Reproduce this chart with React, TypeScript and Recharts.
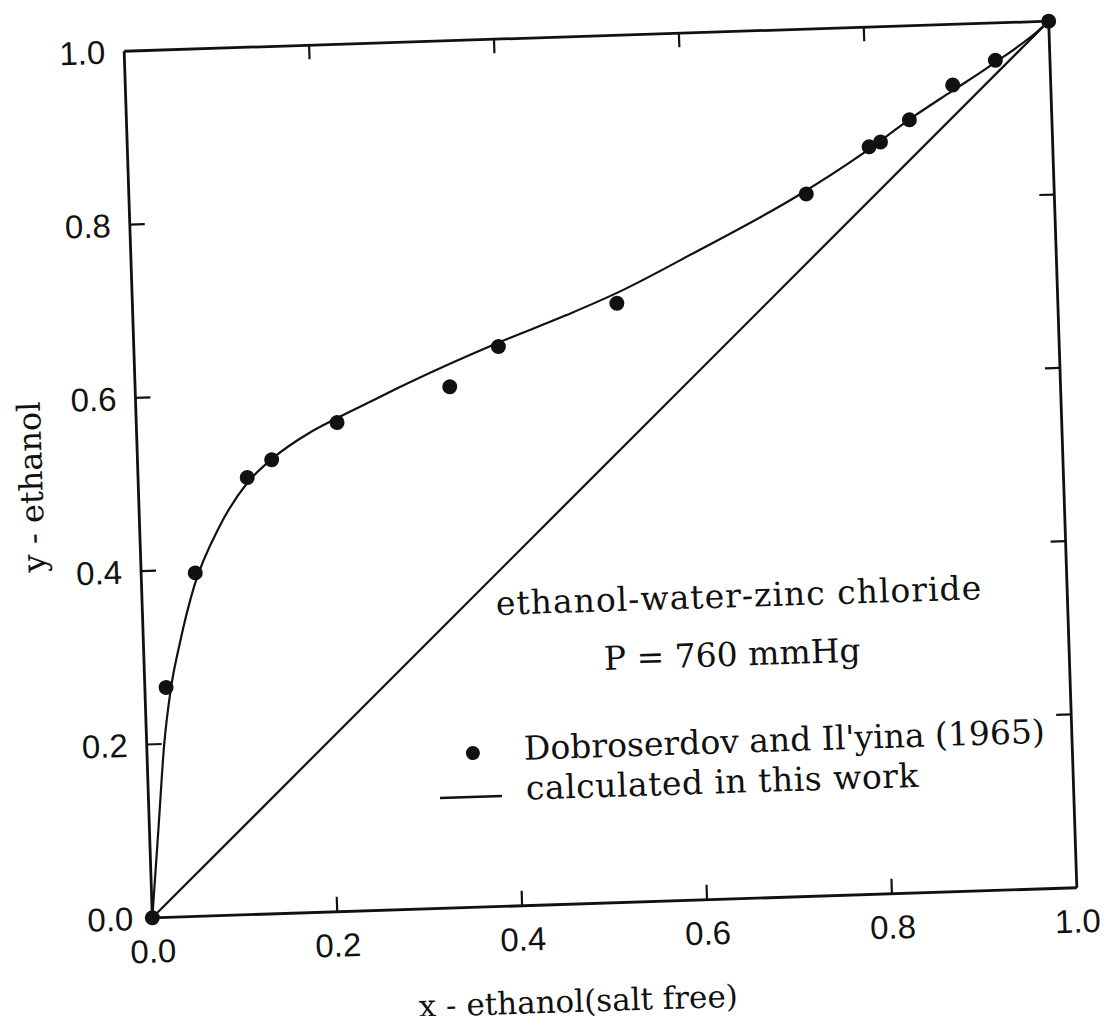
import React from 'react';
import { ComposedChart, Line, Scatter, XAxis, YAxis } from 'recharts';

// ---- data ----
const xTicks = [0, 0.2, 0.4, 0.6, 0.8, 1.0];
const yTicks = [0, 0.2, 0.4, 0.6, 0.8, 1.0];
const innerTicks = [0.2, 0.4, 0.6, 0.8];

// Dobroserdov and Il'yina (1965) – experimental points
const expX = [0, 0.023, 0.0585, 0.118, 0.145, 0.217, 0.34, 0.394, 0.5235, 0.732, 0.8015, 0.814, 0.846, 0.894, 0.941, 1.0];
const expY = [0, 0.265, 0.396, 0.504, 0.5235, 0.564, 0.601, 0.6455, 0.691, 0.81, 0.862, 0.867, 0.8915, 0.93, 0.957, 1.0];

// calculated in this work – model curve
const calcX = [0, 0.01, 0.019, 0.028, 0.039, 0.057, 0.086, 0.118, 0.146, 0.1865, 0.217, 0.2635, 0.285, 0.394, 0.468, 0.524, 0.61, 0.724, 0.794, 0.849, 0.893, 0.934, 0.989, 1.0];
const calcY = [0, 0.105, 0.2, 0.263, 0.314, 0.381, 0.448, 0.498, 0.525, 0.553, 0.569, 0.5915, 0.602, 0.65, 0.679, 0.703, 0.747, 0.809, 0.854, 0.894, 0.923, 0.95, 0.99, 1.0];

// x = y diagonal
const diagX = [0, 1];
const diagY = [0, 1];

const expData = expX.map((x, i) => ({ x, y: expY[i] }));
const calcData = calcX.map((x, i) => ({ x, y: calcY[i] }));
const diagData = diagX.map((x, i) => ({ x, y: diagY[i] }));

const INK = '#111';
const TICK_FONT = '"Liberation Sans", Arial, sans-serif';
const TEXT_FONT = '"DejaVu Serif", serif';
const isInner = (v: number) => v > 0.001 && v < 0.999;

const CHART_W = 1082;
const CHART_H = 1008;
const MARGIN = { top: 27, right: 26, left: 70, bottom: 53 };
const Y_AXIS_W = 60;
const RIGHT_AXIS_W = 1;
const TOP_AXIS_H = 1;
const PLOT_LEFT = MARGIN.left + Y_AXIS_W;
const PLOT_WIDTH = CHART_W - MARGIN.right - RIGHT_AXIS_W - PLOT_LEFT;
const PLOT_TOP = MARGIN.top + TOP_AXIS_H;

const BottomTick = (p: any) => {
  const { x, y, payload } = p;
  const v = payload.value as number;
  return (
    <g>
      {isInner(v) && <line x1={x} y1={y} x2={x} y2={y - 15} stroke={INK} strokeWidth={2.2} />}
      <text x={x} y={y + 33} dy="0.36em" textAnchor="middle" fontFamily={TICK_FONT} fontSize={33} fill={INK}>
        {v.toFixed(1)}
      </text>
    </g>
  );
};

const LeftTick = (p: any) => {
  const { x, y, payload } = p;
  const v = payload.value as number;
  return (
    <g>
      {isInner(v) && <line x1={x} y1={y} x2={x + 15} y2={y} stroke={INK} strokeWidth={2.2} />}
      <text x={x - 19} y={y} dy="0.36em" textAnchor="end" fontFamily={TICK_FONT} fontSize={33} fill={INK}>
        {v.toFixed(1)}
      </text>
    </g>
  );
};

const RightTick = (p: any) => {
  const { x, y, payload } = p;
  const v = payload.value as number;
  return <g>{isInner(v) && <line x1={x} y1={y} x2={x - 15} y2={y} stroke={INK} strokeWidth={2.2} />}</g>;
};

const Dot = (p: any) => <circle cx={p.cx} cy={p.cy} r={7.5} fill={INK} />;

const axisLine = { stroke: INK, strokeWidth: 2.8 };

export default function App() {
  return (
    <div
      style={{
        position: 'relative',
        width: CHART_W,
        height: CHART_H,
        transform: 'rotate(-1.86deg)',
        transformOrigin: '592.75px 461.5px',
        background: '#fff',
      }}
    >
      <ComposedChart width={CHART_W} height={CHART_H} margin={MARGIN}>
        <XAxis
          xAxisId={0}
          dataKey="x"
          type="number"
          domain={[0, 1]}
          ticks={xTicks}
          height={60}
          axisLine={axisLine}
          tickLine={false}
          tickSize={0}
          tickMargin={0}
          tick={<BottomTick />}
          interval={0}
        />
        <XAxis
          xAxisId="top"
          orientation="top"
          dataKey="x"
          type="number"
          domain={[0, 1]}
          ticks={innerTicks}
          height={TOP_AXIS_H}
          axisLine={axisLine}
          tickLine={false}
          tick={false}
          interval={0}
        />
        <YAxis
          yAxisId={0}
          type="number"
          domain={[0, 1]}
          ticks={yTicks}
          width={Y_AXIS_W}
          axisLine={axisLine}
          tickLine={false}
          tickSize={0}
          tickMargin={0}
          tick={<LeftTick />}
          interval={0}
        />
        <YAxis
          yAxisId="right"
          orientation="right"
          type="number"
          domain={[0, 1]}
          ticks={yTicks}
          width={RIGHT_AXIS_W}
          axisLine={axisLine}
          tickLine={false}
          tickSize={0}
          tickMargin={0}
          tick={<RightTick />}
          interval={0}
        />
        <Line
          data={diagData}
          xAxisId="top"
          yAxisId="right"
          dataKey="y"
          type="linear"
          stroke={INK}
          strokeWidth={2.2}
          dot={false}
          activeDot={false}
          isAnimationActive={false}
        />
        <Line
          data={calcData}
          dataKey="y"
          type="monotone"
          stroke={INK}
          strokeWidth={2.2}
          dot={false}
          activeDot={false}
          isAnimationActive={false}
        />
        <Scatter data={expData} dataKey="y" shape={<Dot />} isAnimationActive={false} />
      </ComposedChart>
      <svg
        width={CHART_W}
        height={CHART_H}
        style={{ position: 'absolute', left: 0, top: 0, pointerEvents: 'none' }}
      >
        {innerTicks.map((v) => (
          <line
            key={v}
            x1={PLOT_LEFT + v * PLOT_WIDTH}
            y1={PLOT_TOP}
            x2={PLOT_LEFT + v * PLOT_WIDTH}
            y2={PLOT_TOP + 14}
            stroke={INK}
            strokeWidth={2.2}
          />
        ))}
        <g fontFamily={TEXT_FONT} fontSize={33} fill={INK}>
          <text x={483.6} y={603.5} letterSpacing={1}>ethanol-water-zinc chloride</text>
          <text x={589.8} y={662}>P = 760 mmHg</text>
          <text x={506.9} y={749}>Dobroserdov and Il'yina (1965)</text>
          <text x={507.6} y={789} letterSpacing={0.5}>calculated in this work</text>
          <text x={553} y={992} dy="0.35em" textAnchor="middle" fontSize={31}>
            x - ethanol(salt free)
          </text>
          <text
            x={23}
            y={460.5}
            dy="0.35em"
            textAnchor="middle"
            fontSize={32}
            transform="rotate(-90 23 460.5)"
          >
            y - ethanol
          </text>
        </g>
        <circle cx={455.8} cy={740.8} r={7} fill={INK} />
        <line x1={421.4} y1={784.6} x2={483.4} y2={784.6} stroke={INK} strokeWidth={2.5} />
      </svg>
    </div>
  );
}
